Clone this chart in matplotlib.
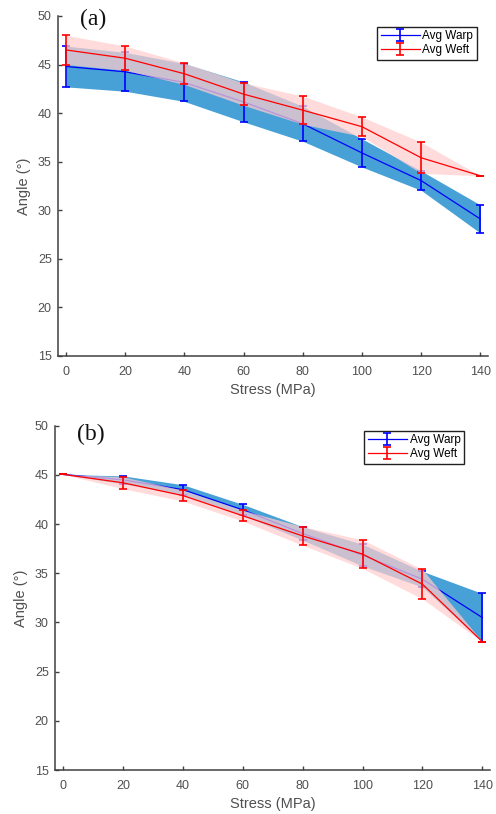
import numpy as np
import matplotlib
matplotlib.use('Agg')
import matplotlib.pyplot as plt

# data
stress = [0, 20, 40, 60, 80, 100, 120, 140]

# (a)
warp_a = [44.8, 44.25, 43.15, 41.15, 38.9, 35.9, 33.05, 29.1]
warp_a_err = [2.1, 2.0, 1.95, 2.05, 1.8, 1.45, 1.0, 1.45]
weft_a = [46.5, 45.65, 44.05, 41.95, 40.3, 38.6, 35.4, 33.55]
weft_a_err = [1.5, 1.25, 1.1, 1.15, 1.45, 1.0, 1.6, 0.0]

# (b)
warp_b = [45.05, 44.5, 43.5, 41.45, 39.05, 36.85, 34.4, 30.5]
warp_b_err = [0.0, 0.4, 0.5, 0.55, 0.68, 1.1, 0.8, 2.45]
weft_b = [45.05, 44.2, 42.9, 40.85, 38.8, 36.95, 33.9, 28.05]
weft_b_err = [0.0, 0.6, 0.55, 0.55, 0.95, 1.45, 1.5, 0.0]

blue_fill = '#47A1D6'
pink_fill = '#FFCDCD'
grey = '#505050'

plt.rcParams['font.family'] = ['Liberation Sans', 'DejaVu Sans']

fig = plt.figure(figsize=(4.96, 8.14), dpi=100)
ax1 = fig.add_axes([0.117, 0.5627, 0.867, 0.4177])
ax2 = fig.add_axes([0.111, 0.054, 0.877, 0.423])


def panel(ax, warp, warp_err, weft, weft_err, tag, tag_y, leg_anchor):
    x = np.array(stress)
    w = np.array(warp); we = np.array(warp_err)
    f = np.array(weft); fe = np.array(weft_err)
    ax.fill_between(x, w - we, w + we, color=blue_fill, lw=0, zorder=1)
    ax.errorbar(x, w, yerr=we, color='#0000FF', lw=0.9, elinewidth=1.2,
                capsize=3, capthick=1.2, label='Avg Warp', zorder=2)
    ax.fill_between(x, f - fe, f + fe, color=pink_fill, alpha=0.72, lw=0, zorder=3)
    ax.errorbar(x, f, yerr=fe, color='#FF0000', lw=0.9, elinewidth=1.2,
                capsize=3, capthick=1.2, label='Avg Weft', zorder=4)

    ax.set_xlim(-2.7, 142.6)
    ax.set_ylim(15, 50)
    ax.set_xticks(range(0, 141, 20))
    ax.set_yticks(range(15, 51, 5))
    for s in ['top', 'right']:
        ax.spines[s].set_visible(False)
    for s in ['left', 'bottom']:
        ax.spines[s].set_color('#404040')
        ax.spines[s].set_linewidth(1.1)
    ax.tick_params(direction='in', length=3, width=1, color='#404040',
                   labelsize=9, labelcolor=grey)
    ax.tick_params(axis='x', pad=7.5)
    ax.tick_params(axis='y', pad=4.5)
    ax.set_xlabel('Stress (MPa)', fontsize=10.5, color=grey, labelpad=3)
    ax.set_ylabel('Angle (°)', fontsize=10.5, color=grey, labelpad=5)
    ax.text(0.05, tag_y, tag, transform=ax.transAxes, ha='left', va='center',
            fontsize=17, family='Liberation Serif', color='#111111')
    leg = ax.legend(loc='upper right', bbox_to_anchor=leg_anchor, fontsize=8.5,
                    handlelength=3.3, handletextpad=0.25, borderpad=0.3,
                    labelspacing=0.15, borderaxespad=0, fancybox=False,
                    framealpha=1)
    leg.get_frame().set_edgecolor('#222222')
    leg.get_frame().set_linewidth(1.0)


panel(ax1, warp_a, warp_a_err, weft_a, weft_a_err, '(a)', 0.99, (0.974, 0.968))
panel(ax2, warp_b, warp_b_err, weft_b, weft_b_err, '(b)', 0.976, (0.940, 0.985))

fig.savefig('out.png', dpi=100)
